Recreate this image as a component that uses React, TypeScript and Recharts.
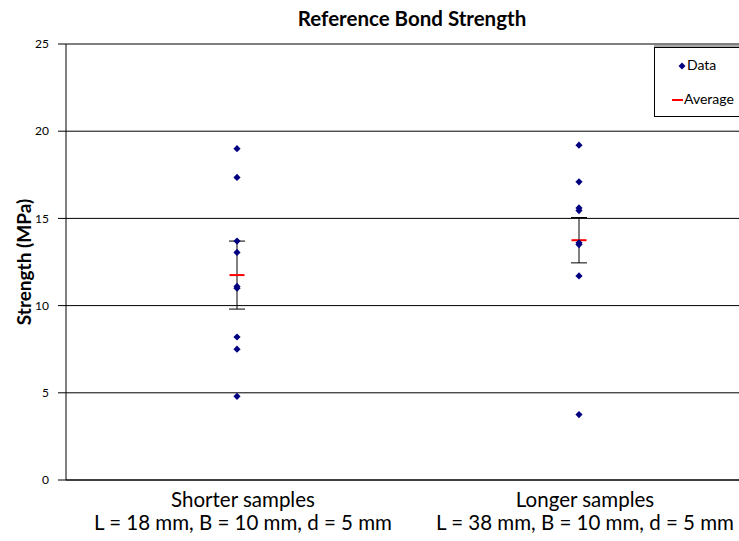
import React from 'react';
import {
  ComposedChart,
  Scatter,
  XAxis,
  YAxis,
  CartesianGrid,
  ErrorBar,
  Label,
} from 'recharts';

const chartTitle = 'Reference Bond Strength';
const yAxisTitle = 'Strength (MPa)';
const categories = ['Shorter samples', 'Longer samples'];
const categoryDetails = ['L = 18 mm, B = 10 mm, d = 5 mm', 'L = 38 mm, B = 10 mm, d = 5 mm'];
const shorterValues = [19.0, 17.35, 13.7, 13.05, 11.1, 11.0, 8.2, 7.5, 4.8];
const longerValues = [19.2, 17.1, 15.6, 15.45, 13.6, 13.5, 11.7, 3.75];
const averages = [11.75, 13.75];
const averageErrors = [1.95, 1.3];
const yTicks = [0, 5, 10, 15, 20, 25];
const legendLabels = ['Data', 'Average'];

const FONT = 'Lato, "Noto Sans", sans-serif';
const NAVY = '#000080';
const RED = '#FF0000';

const seriesValues = [shorterValues, longerValues];
const dataPoints = seriesValues.flatMap((vals, i) => vals.map((v) => ({ x: i + 0.5, y: v })));
const averagePoints = averages.map((v, i) => ({ x: i + 0.5, y: v, err: averageErrors[i] }));
const xTicks = categories.map((_, i) => i + 0.5);

const Diamond = (props: any) => {
  const { cx, cy } = props;
  if (cx == null || cy == null) return null;
  const r = 3.6;
  return <path d={`M${cx},${cy - r}L${cx + r},${cy}L${cx},${cy + r}L${cx - r},${cy}Z`} fill={NAVY} />;
};

const Dash = (props: any) => {
  const { cx, cy } = props;
  if (cx == null || cy == null) return null;
  return <line x1={cx - 7.5} x2={cx + 7.5} y1={cy} y2={cy} stroke={RED} strokeWidth={2} />;
};

const XTick = (props: any) => {
  const { x, y, payload } = props;
  const i = Math.floor(payload.value);
  return (
    <g>
      <text x={x + 6} y={y + 19} textAnchor="middle" fontFamily={FONT} fontSize={20.5} fill="#000">
        {categories[i]}
      </text>
      <text x={x + 6} y={y + 42} textAnchor="middle" fontFamily={FONT} fontSize={20.5} fill="#000">
        {categoryDetails[i]}
      </text>
    </g>
  );
};

const ChartLegend = () => (
  <div
    style={{
      position: 'absolute',
      left: 654,
      top: 47,
      border: '1px solid #000',
      boxShadow: '0 -2px 0 #aaa',
      background: '#fff',
      width: 100,
      height: 70,
      boxSizing: 'border-box',
      fontFamily: FONT,
      fontSize: 14,
      color: '#000',
    }}
  >
    <svg width={20} height={60} style={{ position: 'absolute', left: 17, top: 10 }}>
      <path d="M10,4.5L13.5,8L10,11.5L6.5,8Z" fill={NAVY} />
      <line x1={0} x2={11} y1={42} y2={42} stroke={RED} strokeWidth={2} />
    </svg>
    <div style={{ position: 'absolute', left: 32, top: 8 }}>{legendLabels[0]}</div>
    <div style={{ position: 'absolute', left: 29, top: 42 }}>{legendLabels[1]}</div>
  </div>
);

export default function App() {
  return (
    <div style={{ position: 'absolute', left: 0, top: 0, width: 739, height: 541, overflow: 'hidden', background: '#fff' }}>
      <div
        style={{
          position: 'absolute',
          left: 0,
          width: 824,
          top: 6,
          textAlign: 'center',
          fontFamily: FONT,
          fontWeight: 'bold',
          fontSize: 20.5,
          color: '#000',
        }}
      >
        {chartTitle}
      </div>
      <ComposedChart width={752} height={541} margin={{ top: 44, right: 2, bottom: 0, left: 0 }}>
        <CartesianGrid horizontal vertical={false} stroke="#000" strokeWidth={1} />
        <XAxis
          type="number"
          dataKey="x"
          domain={[0, 2]}
          ticks={xTicks}
          tick={<XTick />}
          tickLine={false}
          axisLine={{ stroke: '#000' }}
          height={61}
          interval={0}
        />
        <YAxis
          type="number"
          dataKey="y"
          domain={[0, 25]}
          ticks={yTicks}
          width={66}
          tickSize={8}
          tickMargin={9}
          axisLine={{ stroke: '#000' }}
          tickLine={{ stroke: '#000' }}
          tick={{ fontFamily: FONT, fontSize: 12, fill: '#000' }}
        >
          <Label
            value={yAxisTitle}
            angle={-90}
            position="center"
            dx={-9}
            style={{ fontFamily: FONT, fontWeight: 'bold', fontSize: 19, fill: '#000' }}
          />
        </YAxis>
        <Scatter name="Average" data={averagePoints} shape={<Dash />} isAnimationActive={false}>
          <ErrorBar dataKey="err" direction="y" width={8} stroke="#000" strokeWidth={1} />
        </Scatter>
        <Scatter name="Data" data={dataPoints} shape={<Diamond />} isAnimationActive={false} />
      </ComposedChart>
      <ChartLegend />
    </div>
  );
}
